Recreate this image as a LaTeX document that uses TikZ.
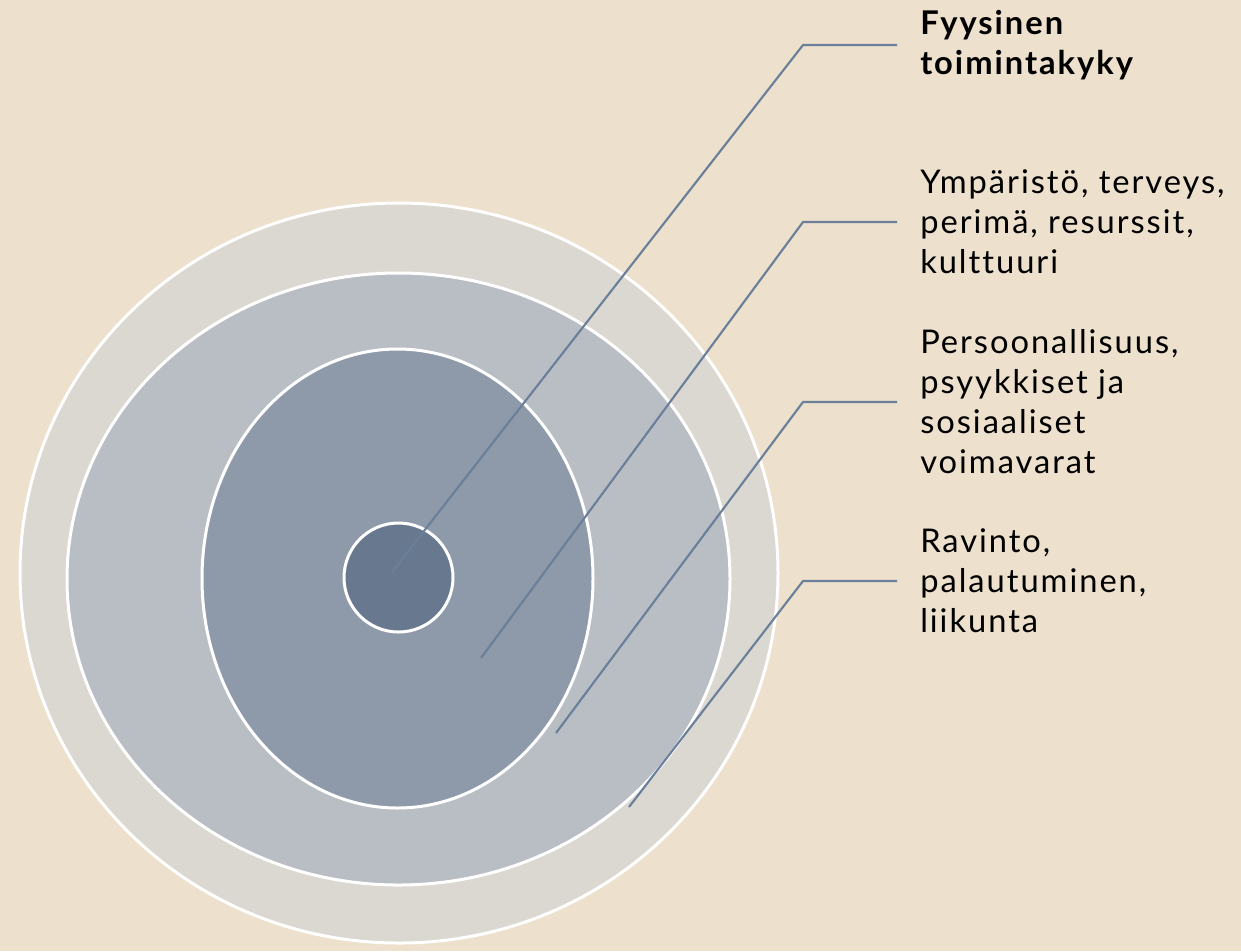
\documentclass[tikz,border=0pt]{standalone}
\usepackage{fontspec}
\setmainfont{Lato}[LetterSpace=6, Ligatures=NoCommon]
\usetikzlibrary{shapes.geometric}
\definecolor{bgc}{RGB}{237,224,204}
\definecolor{ringA}{RGB}{219,216,209}
\definecolor{ringB}{RGB}{185,189,196}
\definecolor{ringC}{RGB}{142,153,170}
\definecolor{ringD}{RGB}{104,121,143}
\definecolor{linec}{RGB}{106,127,153}
\tikzset{
  ring/.style={ellipse, draw=white, line width=2.25pt, inner sep=0pt},
  conn/.style={draw=linec, line width=1.6pt},
  lbl/.style={anchor=west, align=left, inner xsep=17.25pt, inner ysep=0pt,
    font=\fontsize{24.5pt}{30pt}\selectfont, text=black}
}
\begin{document}
\begin{tikzpicture}[x=0.75pt,y=-0.75pt]
\fill[bgc] (0,0) rectangle (1241,951);
\useasboundingbox (0,0) rectangle (1241,951);
\node[ring, fill=ringA, minimum width=568.5pt, minimum height=555pt] (r1) at (399,573) {};
\node[ring, fill=ringB, minimum width=497.25pt, minimum height=459pt] (r2) at (398.5,579) {};
\node[ring, fill=ringC, minimum width=293.25pt, minimum height=344.25pt] (r3) at (397.5,578.5) {};
\node[ring, fill=ringD, minimum width=81.75pt, minimum height=81.75pt] (r4) at (398.5,577.5) {};

\node[lbl, font=\fontsize{24.5pt}{30pt}\selectfont\bfseries] (t1) at (897,45) {Fyysinen\\toimintakyky};
\node[lbl] (t2) at (897,222) {Ympäristö, terveys,\\perimä, resurssit,\\kulttuuri};
\node[lbl] (t3) at (897,402) {Persoonallisuus,\\psyykkiset ja\\sosiaaliset\\voimavarat};
\node[lbl] (t4) at (897,581) {Ravinto,\\palautuminen,\\liikunta};

\coordinate (p1) at (392,572);
\coordinate (p2) at (481,658);
\coordinate (p3) at (556,733);
\coordinate (p4) at (629,807);
\coordinate (e1) at (803,45);
\coordinate (e2) at (803,222);
\coordinate (e3) at (803,402);
\coordinate (e4) at (803,581);

\draw[conn] (p1) -- (e1) -- (t1.west);
\draw[conn] (p2) -- (e2) -- (t2.west);
\draw[conn] (p3) -- (e3) -- (t3.west);
\draw[conn] (p4) -- (e4) -- (t4.west);
\end{tikzpicture}
\end{document}
